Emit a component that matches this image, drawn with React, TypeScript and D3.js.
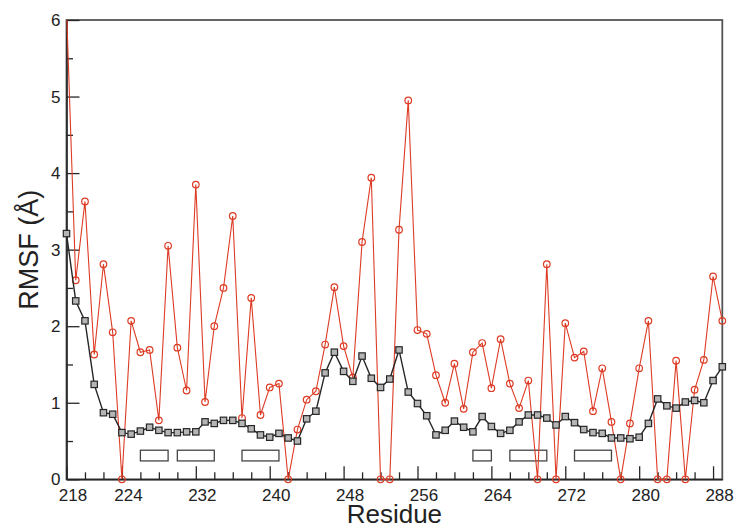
import React, { useEffect, useRef } from "react";
import * as d3 from "d3";

// residue numbers 218..289
const residues = d3.range(218, 290);

// red circles
const rmsfRed = [
  6.15, 2.6, 3.63, 1.63, 2.81, 1.92, 0, 2.07, 1.66, 1.69,
  0.77, 3.05, 1.72, 1.16, 3.85, 1.01, 2.0, 2.5, 3.44, 0.8,
  2.37, 0.84, 1.2, 1.25, 0, 0.65, 1.04, 1.15, 1.76, 2.51,
  1.74, 1.33, 3.1, 3.94, 0, 0, 3.26, 4.95, 1.95, 1.9,
  1.36, 1.0, 1.51, 0.92, 1.66, 1.78, 1.19, 1.83, 1.25, 0.93,
  1.29, 0, 2.81, 0, 2.04, 1.59, 1.67, 0.89, 1.45, 0.75,
  0, 0.73, 1.45, 2.07, 0, 0, 1.55, 0, 1.17, 1.56,
  2.65, 2.07,
];

// black squares
const rmsfBlack = [
  3.21, 2.33, 2.07, 1.24, 0.87, 0.85, 0.61, 0.59, 0.63, 0.68,
  0.64, 0.61, 0.61, 0.62, 0.62, 0.75, 0.73, 0.77, 0.77, 0.73,
  0.66, 0.58, 0.55, 0.6, 0.54, 0.5, 0.79, 0.89, 1.39, 1.66,
  1.41, 1.28, 1.61, 1.32, 1.2, 1.31, 1.69, 1.14, 0.99, 0.83,
  0.58, 0.64, 0.76, 0.68, 0.62, 0.82, 0.69, 0.6, 0.64, 0.75,
  0.84, 0.84, 0.8, 0.71, 0.82, 0.74, 0.65, 0.61, 0.6, 0.54,
  0.54, 0.53, 0.55, 0.73, 1.05, 0.96, 0.93, 1.01, 1.03, 1.0,
  1.29, 1.47,
];

// secondary structure boxes
const boxStart = [226, 230, 237, 262, 266, 273];
const boxEnd = [229, 234, 241, 264, 270, 277];
const boxLow = 0.24;
const boxHigh = 0.38;

const xMajorTicks = [218, 224, 232, 240, 248, 256, 264, 272, 280, 288];
const xMinorTicks = d3.range(220, 289, 2).filter((v) => !xMajorTicks.includes(v));
const yMajorTicks = [0, 1, 2, 3, 4, 5, 6];
const yMinorTicks = [0.5, 1.5, 2.5, 3.5, 4.5, 5.5];

const RED = "#dd3b24";
const DARK = "#262626";

export default function App() {
  const ref = useRef<SVGSVGElement>(null);

  useEffect(() => {
    const W = 736, H = 528;
    const margin = { top: 20, right: 13.7, bottom: 48.7, left: 66.5 };
    const w = W - margin.left - margin.right;
    const h = H - margin.top - margin.bottom;

    const svg = d3.select(ref.current);
    svg.selectAll("*").remove();

    svg.append("defs").append("clipPath").attr("id", "plotclip")
      .append("rect").attr("x", -8).attr("y", 0).attr("width", w + 16).attr("height", h + 12);

    const g = svg.append("g").attr("transform", `translate(${margin.left},${margin.top})`);

    const x = d3.scaleLinear().domain([218, 289]).range([0, w]);
    const y = d3.scaleLinear().domain([0, 6]).range([h, 0]);

    const font = "'Liberation Sans', Arial, Helvetica, sans-serif";

    // frame
    g.append("rect").attr("x", 0).attr("y", 0).attr("width", w).attr("height", h)
      .attr("fill", "none").attr("stroke", "#555").attr("stroke-width", 1.8);

    // minor ticks
    g.append("g").attr("transform", `translate(0,${h})`)
      .call(d3.axisBottom(x).tickValues(xMinorTicks).tickSizeInner(-7).tickSizeOuter(0).tickFormat(() => ""))
      .call((a) => a.select(".domain").remove())
      .call((a) => a.selectAll("line").attr("stroke", DARK).attr("stroke-width", 1.3));
    g.append("g")
      .call(d3.axisLeft(y).tickValues(yMinorTicks).tickSizeInner(-6.5).tickSizeOuter(0).tickFormat(() => ""))
      .call((a) => a.select(".domain").remove())
      .call((a) => a.selectAll("line").attr("stroke", DARK).attr("stroke-width", 1.3));

    // major ticks + labels
    const xAxis = g.append("g").attr("transform", `translate(0,${h})`)
      .call(d3.axisBottom(x).tickValues(xMajorTicks).tickSizeInner(-13).tickSizeOuter(0).tickPadding(10).tickFormat(d3.format("d")));
    xAxis.select(".domain").attr("stroke", DARK).attr("stroke-width", 1.6);
    xAxis.selectAll("line").attr("stroke", DARK).attr("stroke-width", 1.3);
    xAxis.selectAll("text").attr("dx", 6).style("font-size", "17px").style("font-family", font).attr("fill", "#222");

    const yAxis = g.append("g")
      .call(d3.axisLeft(y).tickValues(yMajorTicks).tickSizeInner(-13).tickSizeOuter(0).tickPadding(6).tickFormat(d3.format("d")));
    yAxis.select(".domain").attr("stroke", DARK).attr("stroke-width", 1.6);
    yAxis.selectAll("line").attr("stroke", DARK).attr("stroke-width", 1.3);
    yAxis.selectAll("text").style("font-size", "17px").style("font-family", font).attr("fill", "#222");

    // secondary structure boxes
    g.selectAll(".ssbox")
      .data(boxStart.map((s, i) => ({ s, e: boxEnd[i] })))
      .join("rect")
      .attr("class", "ssbox")
      .attr("x", (d) => x(d.s))
      .attr("y", y(boxHigh))
      .attr("width", (d) => x(d.e) - x(d.s))
      .attr("height", y(boxLow) - y(boxHigh))
      .attr("fill", "white")
      .attr("stroke", "#444")
      .attr("stroke-width", 1.3);

    const plot = g.append("g").attr("clip-path", "url(#plotclip)");

    const redData = residues.map((r, i) => ({ r, v: rmsfRed[i] }));
    const blackData = residues.map((r, i) => ({ r, v: rmsfBlack[i] }));
    const line = d3.line<{ r: number; v: number }>().x((d) => x(d.r)).y((d) => y(d.v));

    plot.append("path").datum(redData).attr("d", line)
      .attr("fill", "none").attr("stroke", RED).attr("stroke-width", 1.1);
    plot.selectAll(".redpt").data(redData).join("circle")
      .attr("class", "redpt")
      .attr("cx", (d) => x(d.r)).attr("cy", (d) => y(d.v)).attr("r", 3.3)
      .attr("fill", "none").attr("stroke", RED).attr("stroke-width", 1.2);

    plot.append("path").datum(blackData).attr("d", line)
      .attr("fill", "none").attr("stroke", DARK).attr("stroke-width", 1.4);
    plot.selectAll(".blkpt").data(blackData).join("rect")
      .attr("class", "blkpt")
      .attr("x", (d) => x(d.r) - 3.2).attr("y", (d) => y(d.v) - 3.2)
      .attr("width", 6.4).attr("height", 6.4)
      .attr("fill", "#b5b5b5").attr("stroke", DARK).attr("stroke-width", 1.2);

    // axis titles
    svg.append("text")
      .attr("x", margin.left + w / 2)
      .attr("y", 523)
      .attr("text-anchor", "middle")
      .style("font-family", font)
      .style("font-size", "26px")
      .attr("fill", "#222")
      .text("Residue");

    svg.append("text")
      .attr("transform", `translate(38,${margin.top + h / 2}) rotate(-90)`)
      .attr("text-anchor", "middle")
      .style("font-family", font)
      .style("font-size", "27px")
      .attr("fill", "#222")
      .text("RMSF (Å)");
  }, []);

  return (
    <svg
      ref={ref}
      width={736}
      height={528}
      style={{ position: "absolute", left: 0, top: 0, background: "white" }}
    />
  );
}
